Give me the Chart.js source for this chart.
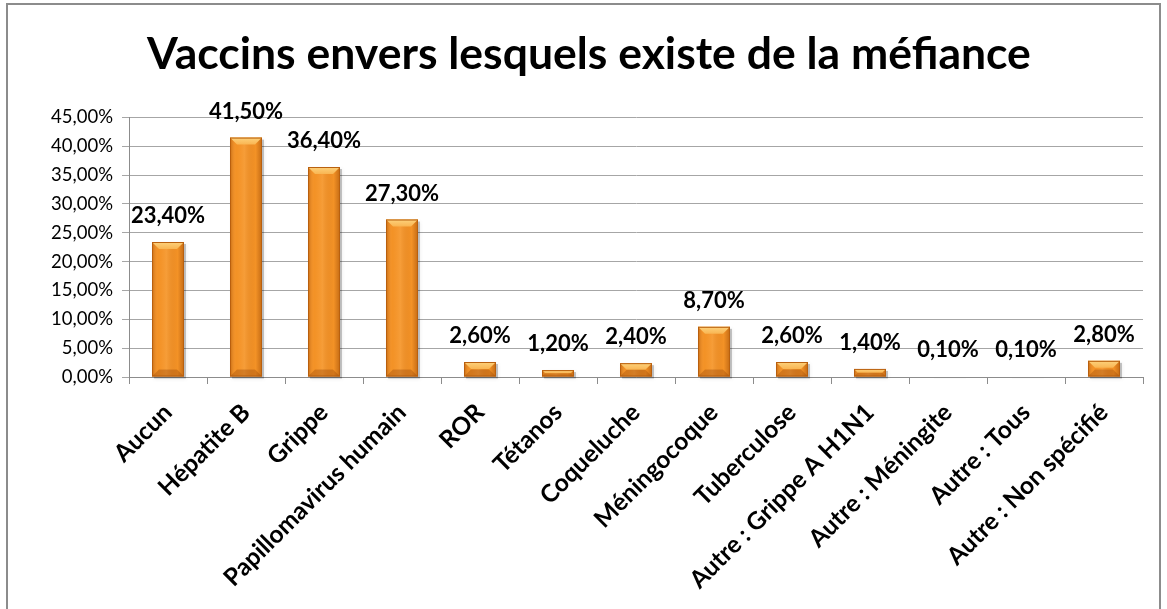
<!DOCTYPE html>
<html><head><meta charset="utf-8">
<script src="https://cdn.jsdelivr.net/npm/chart.js@4"></script>
<style>
html,body{margin:0;padding:0;background:#fff;overflow:hidden}
#wrap{position:absolute;left:0;top:0;width:1167px;height:609px}
#frame{position:absolute;left:6px;top:3px;width:1155px;height:640px;border:2px solid #8c8c8c;box-sizing:border-box}
canvas{position:absolute;left:0;top:0}
</style></head><body>
<div id="wrap"><div id="frame"></div><canvas id="c" width="1167" height="609"></canvas></div>
<script>
const categories = ['Aucun','Hépatite B','Grippe','Papillomavirus humain','ROR','Tétanos','Coqueluche','Méningocoque','Tuberculose','Autre : Grippe A H1N1','Autre : Méningite','Autre : Tous','Autre : Non spécifié'];
const values = [23.4, 41.5, 36.4, 27.3, 2.6, 1.2, 2.4, 8.7, 2.6, 1.4, 0.1, 0.1, 2.8];
const yMin = 0, yMax = 45, yStep = 5;
const titleText = 'Vaccins envers lesquels existe de la méfiance';
const FONT = 'Lato';

function fmt(v){ return v.toFixed(2).replace('.', ',') + '%'; }

const bevelPlugin = {
  id: 'bevel',
  beforeDatasetsDraw(chart){
    const ctx = chart.ctx;
    chart.getDatasetMeta(0).data.forEach(el => {
      const p = el.getProps(['x','y','base','width'], true);
      const L = p.x - p.width/2, T = Math.min(p.y, p.base), B = Math.max(p.y, p.base);
      ctx.save();
      ctx.fillStyle = 'rgba(0,0,0,0.22)';
      ctx.shadowColor = 'rgba(0,0,0,0.35)';
      ctx.shadowBlur = 4;
      ctx.fillRect(L + 2, T + 2, p.width, B - T);
      ctx.restore();
    });
  },
  afterDatasetsDraw(chart){
    const ctx = chart.ctx;
    chart.getDatasetMeta(0).data.forEach(el => {
      const p = el.getProps(['x','y','base','width'], true);
      const L = p.x - p.width/2, R = p.x + p.width/2;
      const T = Math.min(p.y, p.base), B = Math.max(p.y, p.base);
      const h = B - T;
      if (h < 0.5) return;
      ctx.save();
      const g = ctx.createLinearGradient(L, 0, R, 0);
      g.addColorStop(0, 'rgba(140,60,0,0.45)');
      g.addColorStop(0.2, 'rgba(255,170,80,0.0)');
      g.addColorStop(0.45, 'rgba(255,190,110,0.25)');
      g.addColorStop(0.8, 'rgba(140,60,0,0.0)');
      g.addColorStop(1, 'rgba(140,60,0,0.45)');
      ctx.fillStyle = g;
      ctx.fillRect(L, T, p.width, h);
      const b = Math.min(7, h/2);
      const gt = ctx.createLinearGradient(0, T, 0, T + b);
      gt.addColorStop(0, '#FDD27C');
      gt.addColorStop(1, '#F9B552');
      ctx.fillStyle = gt;
      ctx.beginPath();
      ctx.moveTo(L, T); ctx.lineTo(R, T); ctx.lineTo(R - b, T + b); ctx.lineTo(L + b, T + b); ctx.closePath();
      ctx.fill();
      ctx.fillStyle = 'rgba(150,70,10,0.35)';
      ctx.beginPath();
      ctx.moveTo(L, B); ctx.lineTo(R, B); ctx.lineTo(R - b, B - b); ctx.lineTo(L + b, B - b); ctx.closePath();
      ctx.fill();
      ctx.strokeStyle = '#B9600F';
      ctx.lineWidth = 1;
      ctx.strokeRect(L + 0.5, T + 0.5, p.width - 1, h - 1);
      ctx.restore();
    });
  }
};

const labelPlugin = {
  id: 'vlabels',
  afterDatasetsDraw(chart){
    const ctx = chart.ctx;
    const ds = chart.data.datasets[0];
    ctx.save();
    ctx.font = 'bold 22px ' + FONT;
    ctx.fillStyle = '#000';
    ctx.textAlign = 'center';
    ctx.textBaseline = 'alphabetic';
    chart.getDatasetMeta(0).data.forEach((el, i) => {
      const p = el.getProps(['x','y'], true);
      ctx.fillText(fmt(ds.data[i]), p.x, p.y - 19);
    });
    ctx.restore();
  }
};

new Chart(document.getElementById('c'), {
  type: 'bar',
  data: {
    labels: categories,
    datasets: [{
      data: values,
      backgroundColor: '#F39226',
      borderWidth: 0,
      barPercentage: 0.82,
      categoryPercentage: 0.5
    }]
  },
  options: {
    responsive: false,
    animation: false,
    layout: { padding: { left: 35, right: 24, top: 0, bottom: 0 } },
    plugins: {
      legend: { display: false },
      tooltip: { enabled: false },
      title: {
        display: true,
        text: titleText,
        color: '#000',
        font: { family: FONT, size: 44.5, weight: 'bold', lineHeight: 1.2 },
        padding: { top: 28, bottom: 36 }
      }
    },
    scales: {
      x: {
        afterFit(s){ s.height = 232; },
        grid: { drawOnChartArea: false, tickLength: 7, color: '#8c8c8c' },
        border: { color: '#8c8c8c' },
        ticks: {
          autoSkip: false, maxRotation: 45, minRotation: 45, padding: 14,
          color: '#000', font: { family: FONT, size: 24.5, weight: 'bold' }
        }
      },
      y: {
        min: yMin, max: yMax,
        afterFit(s){ s.width = 94; },
        grid: { color: '#A6A6A6', tickLength: 7 },
        border: { color: '#8c8c8c' },
        ticks: {
          stepSize: yStep, padding: 9, color: '#000',
          font: { family: FONT, size: 18.5 },
          callback: v => fmt(v)
        }
      }
    }
  },
  plugins: [bevelPlugin, labelPlugin]
});
</script>
</body></html>
